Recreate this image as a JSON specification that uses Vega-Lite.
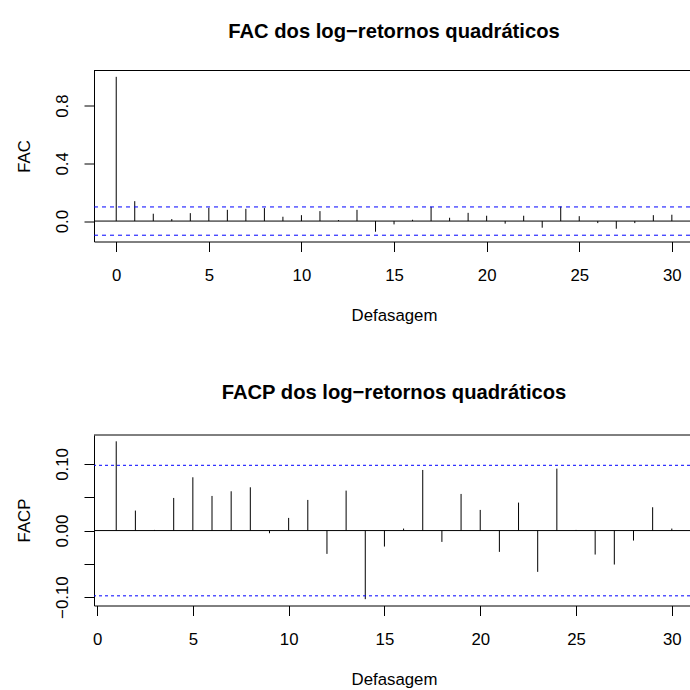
{
  "$schema": "https://vega.github.io/schema/vega-lite/v6.json",
  "background": "white",
  "padding": {"left": 16, "top": 21.5, "right": 0, "bottom": 0},
  "datasets": {
    "acf": [
      {"lag": 0, "v": 1.0}, {"lag": 1, "v": 0.138}, {"lag": 2, "v": 0.051}, {"lag": 3, "v": 0.014},
      {"lag": 4, "v": 0.055}, {"lag": 5, "v": 0.092}, {"lag": 6, "v": 0.078}, {"lag": 7, "v": 0.085},
      {"lag": 8, "v": 0.090}, {"lag": 9, "v": 0.030}, {"lag": 10, "v": 0.041}, {"lag": 11, "v": 0.069},
      {"lag": 12, "v": 0.007}, {"lag": 13, "v": 0.078}, {"lag": 14, "v": -0.074}, {"lag": 15, "v": -0.023},
      {"lag": 16, "v": 0.009}, {"lag": 17, "v": 0.099}, {"lag": 18, "v": 0.023}, {"lag": 19, "v": 0.057},
      {"lag": 20, "v": 0.037}, {"lag": 21, "v": -0.018}, {"lag": 22, "v": 0.037}, {"lag": 23, "v": -0.046},
      {"lag": 24, "v": 0.101}, {"lag": 25, "v": 0.034}, {"lag": 26, "v": -0.014}, {"lag": 27, "v": -0.053},
      {"lag": 28, "v": -0.014}, {"lag": 29, "v": 0.041}, {"lag": 30, "v": 0.044}
    ],
    "pacf": [
      {"lag": 1, "v": 0.134}, {"lag": 2, "v": 0.030}, {"lag": 3, "v": 0.001}, {"lag": 4, "v": 0.049},
      {"lag": 5, "v": 0.080}, {"lag": 6, "v": 0.052}, {"lag": 7, "v": 0.059}, {"lag": 8, "v": 0.065},
      {"lag": 9, "v": -0.004}, {"lag": 10, "v": 0.019}, {"lag": 11, "v": 0.046}, {"lag": 12, "v": -0.035},
      {"lag": 13, "v": 0.060}, {"lag": 14, "v": -0.103}, {"lag": 15, "v": -0.024}, {"lag": 16, "v": 0.003},
      {"lag": 17, "v": 0.091}, {"lag": 18, "v": -0.017}, {"lag": 19, "v": 0.055}, {"lag": 20, "v": 0.031},
      {"lag": 21, "v": -0.032}, {"lag": 22, "v": 0.042}, {"lag": 23, "v": -0.062}, {"lag": 24, "v": 0.093},
      {"lag": 25, "v": 0.001}, {"lag": 26, "v": -0.036}, {"lag": 27, "v": -0.051}, {"lag": 28, "v": -0.015},
      {"lag": 29, "v": 0.035}, {"lag": 30, "v": 0.003}
    ],
    "ci": [{"c": 0.098}, {"c": -0.098}],
    "frameTop": [{"h": 0}, {"h": 1.0439}],
    "frameBot": [{"h": 0}, {"h": 0.1435}]
  },
  "config": {
    "font": "Liberation Sans",
    "view": {"stroke": null},
    "axis": {
      "labelFont": "Liberation Sans", "labelFontSize": 16.8, "labelColor": "black",
      "titleFont": "Liberation Sans", "titleFontSize": 16.8, "titleFontWeight": "normal", "titleColor": "black",
      "domainColor": "black", "domainWidth": 1, "tickColor": "black", "tickWidth": 1, "tickSize": 10,
      "grid": false, "labelFlush": false, "labelOverlap": false
    },
    "title": {"font": "Liberation Sans", "fontSize": 20.2, "fontWeight": "bold", "color": "black", "frame": "group", "anchor": "middle", "baseline": "alphabetic"},
    "concat": {"spacing": 57.5}
  },
  "vconcat": [
    {
      "width": 596, "height": 171,
      "title": {"text": "FAC dos log−retornos quadráticos", "dx": 2, "offset": 27.5},
      "layer": [
        {
          "data": {"name": "acf"},
          "mark": {"type": "rule", "color": "black", "strokeWidth": 1},
          "encoding": {
            "x": {"field": "lag", "type": "quantitative", "scale": {"domain": [-1.2, 30.98], "nice": false, "zero": false},
                  "axis": {"values": [0, 5, 10, 15, 20, 25, 30], "title": "Defasagem", "labelPadding": 16,
                           "titleX": 300, "titleY": 79, "titleBaseline": "alphabetic", "titleAlign": "center"}},
            "y": {"field": "v", "type": "quantitative", "scale": {"domain": [-0.1416, 1.0439], "nice": false, "zero": false},
                  "axis": {"values": [0, 0.2, 0.4, 0.6, 0.8, 1.0],
                           "labelExpr": "(abs(datum.value-0.2)<0.01 || abs(datum.value-0.6)<0.01 || abs(datum.value-1)<0.01) ? '' : format(datum.value, '.1f')",
                           "labelAngle": 270, "labelAlign": "center", "labelBaseline": "alphabetic", "labelPadding": 17,
                           "title": "FAC", "titleX": -65, "titleY": 85.5, "titleAngle": 270, "titleBaseline": "alphabetic", "titleAlign": "center"}},
            "y2": {"datum": 0}
          }
        },
        {
          "data": {"name": "frameTop"},
          "mark": {"type": "rule", "color": "black", "strokeWidth": 1},
          "encoding": {"y": {"field": "h", "type": "quantitative"}}
        },
        {
          "data": {"name": "ci"},
          "mark": {"type": "rule", "color": "#0000FF", "strokeWidth": 1, "strokeDash": [4, 4]},
          "encoding": {"y": {"field": "c", "type": "quantitative"}}
        }
      ]
    },
    {
      "width": 596, "height": 170.5,
      "title": {"text": "FACP dos log−retornos quadráticos", "dx": 2, "offset": 31.5},
      "layer": [
        {
          "data": {"name": "pacf"},
          "mark": {"type": "rule", "color": "black", "strokeWidth": 1},
          "encoding": {
            "x": {"field": "lag", "type": "quantitative", "scale": {"domain": [-0.16, 30.95], "nice": false, "zero": false},
                  "axis": {"values": [0, 5, 10, 15, 20, 25, 30], "title": "Defasagem", "labelPadding": 16,
                           "titleX": 300, "titleY": 79, "titleBaseline": "alphabetic", "titleAlign": "center"}},
            "y": {"field": "v", "type": "quantitative", "scale": {"domain": [-0.1125, 0.1435], "nice": false, "zero": false},
                  "axis": {"values": [-0.1, -0.05, 0, 0.05, 0.1],
                           "labelExpr": "abs(abs(datum.value)-0.05)<0.001 ? '' : format(datum.value, '.2f')",
                           "labelAngle": 270, "labelAlign": "center", "labelBaseline": "alphabetic", "labelPadding": 17,
                           "title": "FACP", "titleX": -65, "titleY": 85, "titleAngle": 270, "titleBaseline": "alphabetic", "titleAlign": "center"}},
            "y2": {"datum": 0}
          }
        },
        {
          "data": {"name": "frameBot"},
          "mark": {"type": "rule", "color": "black", "strokeWidth": 1},
          "encoding": {"y": {"field": "h", "type": "quantitative"}}
        },
        {
          "data": {"name": "ci"},
          "mark": {"type": "rule", "color": "#0000FF", "strokeWidth": 1, "strokeDash": [3, 3]},
          "encoding": {"y": {"field": "c", "type": "quantitative"}}
        }
      ]
    }
  ]
}
